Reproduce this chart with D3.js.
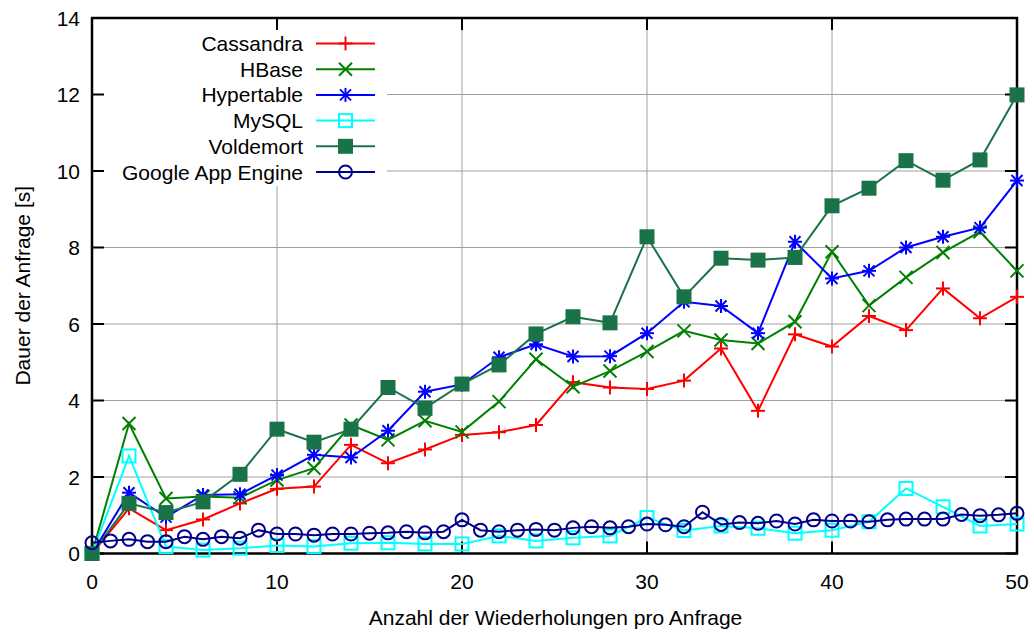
<!DOCTYPE html>
<html>
<head>
<meta charset="utf-8">
<script src="https://cdn.jsdelivr.net/npm/d3@7"></script>
<style>
  body { margin: 0; background: #fff; }
  svg { font-family: "Liberation Sans", Arial, sans-serif; }
</style>
</head>
<body>
<svg id="chart" width="1034" height="633"></svg>
<script>
// x positions of the even-step series
const xEven = [0, 2, 4, 6, 8, 10, 12, 14, 16, 18, 20, 22, 24, 26, 28, 30, 32, 34, 36, 38, 40, 42, 44, 46, 48, 50];
// GAE was measured at every step
const xAll = d3.range(0, 51);

const cassandra = [0, 1.18, 0.61, 0.89, 1.31, 1.69, 1.75, 2.84, 2.36, 2.72, 3.10, 3.17, 3.36, 4.48, 4.34, 4.30, 4.52, 5.36, 3.73, 5.73, 5.41, 6.21, 5.84, 6.93, 6.15, 6.71];
const hbase = [0, 3.40, 1.44, 1.49, 1.46, 1.92, 2.23, 3.36, 2.97, 3.47, 3.18, 3.97, 5.08, 4.36, 4.77, 5.28, 5.82, 5.58, 5.49, 6.06, 7.89, 6.48, 7.22, 7.87, 8.41, 7.39];
const hypertable = [0, 1.59, 0.95, 1.53, 1.55, 2.05, 2.58, 2.51, 3.21, 4.23, 4.42, 5.13, 5.47, 5.15, 5.16, 5.76, 6.58, 6.47, 5.76, 8.15, 7.19, 7.39, 8.00, 8.28, 8.52, 9.75];
const mysql = [0, 2.55, 0.18, 0.09, 0.14, 0.21, 0.18, 0.27, 0.28, 0.25, 0.25, 0.46, 0.33, 0.41, 0.46, 0.94, 0.60, 0.72, 0.66, 0.53, 0.61, 0.83, 1.70, 1.22, 0.72, 0.77];
const voldemort = [0, 1.31, 1.07, 1.35, 2.07, 3.25, 2.91, 3.25, 4.34, 3.80, 4.43, 4.93, 5.74, 6.19, 6.03, 8.28, 6.71, 7.72, 7.67, 7.74, 9.09, 9.55, 10.27, 9.76, 10.29, 11.99];
const gae = [0.28, 0.33, 0.37, 0.31, 0.31, 0.44, 0.37, 0.44, 0.40, 0.61, 0.51, 0.51, 0.48, 0.51, 0.51, 0.53, 0.54, 0.57, 0.54, 0.57, 0.88, 0.61, 0.57, 0.61, 0.63, 0.61, 0.67, 0.70, 0.67, 0.70, 0.77, 0.75, 0.70, 1.08, 0.76, 0.81, 0.79, 0.85, 0.77, 0.88, 0.85, 0.85, 0.83, 0.88, 0.90, 0.90, 0.90, 1.02, 0.99, 1.01, 1.05];

const xTicks = [0, 10, 20, 30, 40, 50];
const yTicks = [0, 2, 4, 6, 8, 10, 12, 14];

const series = [
  { name: "Cassandra", xs: xEven, ys: cassandra, color: "#ff0000", mark: "plus" },
  { name: "HBase", xs: xEven, ys: hbase, color: "#008000", mark: "cross" },
  { name: "Hypertable", xs: xEven, ys: hypertable, color: "#0000ff", mark: "star" },
  { name: "MySQL", xs: xEven, ys: mysql, color: "#00ffff", mark: "box" },
  { name: "Voldemort", xs: xEven, ys: voldemort, color: "#1a7348", mark: "fbox" },
  { name: "Google App Engine", xs: xAll, ys: gae, color: "#00008b", mark: "circle" }
];

const pl = 92, pr = 1017, pt = 18, pb = 553.5;
const fs = 21;
const x = d3.scaleLinear().domain([0, 50]).range([pl, pr]);
const y = d3.scaleLinear().domain([0, 14]).range([pb, pt]);

const svg = d3.select("#chart");

// grid
const grid = svg.append("g").attr("stroke", "#a0a0a0").attr("stroke-width", 1);
grid.selectAll("line.gx").data(xTicks.slice(1, -1)).enter().append("line")
  .attr("x1", d => x(d)).attr("x2", d => x(d)).attr("y1", pt).attr("y2", pb);
grid.selectAll("line.gy").data(yTicks.slice(1, -1)).enter().append("line")
  .attr("y1", d => y(d)).attr("y2", d => y(d)).attr("x1", pl).attr("x2", pr);

// legend backdrop hides the grid
svg.append("rect").attr("x", pl + 2).attr("y", 24).attr("width", 293).attr("height", 162).attr("fill", "#fff");

// ticks, inward, on all sides
const tk = svg.append("g").attr("stroke", "#000").attr("stroke-width", 2);
xTicks.forEach(d => {
  tk.append("line").attr("x1", x(d)).attr("x2", x(d)).attr("y1", pb).attr("y2", pb - 12);
  tk.append("line").attr("x1", x(d)).attr("x2", x(d)).attr("y1", pt).attr("y2", pt + 12);
});
yTicks.forEach(d => {
  tk.append("line").attr("y1", y(d)).attr("y2", y(d)).attr("x1", pl).attr("x2", pl + 12);
  tk.append("line").attr("y1", y(d)).attr("y2", y(d)).attr("x1", pr).attr("x2", pr - 12);
});

// border
svg.append("rect").attr("x", pl).attr("y", pt).attr("width", pr - pl).attr("height", pb - pt)
  .attr("fill", "none").attr("stroke", "#000").attr("stroke-width", 2.5);

// tick labels
svg.append("g").selectAll("text").data(xTicks).enter().append("text")
  .attr("x", d => x(d)).attr("y", pb + 35).attr("text-anchor", "middle")
  .attr("font-size", fs).text(d => d);
svg.append("g").selectAll("text").data(yTicks).enter().append("text")
  .attr("x", pl - 12).attr("y", d => y(d) + 7.5).attr("text-anchor", "end")
  .attr("font-size", fs).text(d => d);

// axis titles
svg.append("text").attr("x", (pl + pr) / 2 + 1).attr("y", 625).attr("text-anchor", "middle")
  .attr("font-size", fs).text("Anzahl der Wiederholungen pro Anfrage");
svg.append("text").attr("transform", "translate(30," + ((pt + pb) / 2) + ") rotate(-90)")
  .attr("text-anchor", "middle").attr("font-size", fs).text("Dauer der Anfrage [s]");

function drawMark(g, kind, cx, cy, color) {
  if (kind === "plus" || kind === "star") {
    g.append("line").attr("x1", cx - 7).attr("x2", cx + 7).attr("y1", cy).attr("y2", cy).attr("stroke", color).attr("stroke-width", 2);
    g.append("line").attr("x1", cx).attr("x2", cx).attr("y1", cy - 7).attr("y2", cy + 7).attr("stroke", color).attr("stroke-width", 2);
  }
  if (kind === "cross" || kind === "star") {
    const h = kind === "star" ? 5.5 : 6.5;
    g.append("line").attr("x1", cx - h).attr("x2", cx + h).attr("y1", cy - h).attr("y2", cy + h).attr("stroke", color).attr("stroke-width", 2);
    g.append("line").attr("x1", cx - h).attr("x2", cx + h).attr("y1", cy + h).attr("y2", cy - h).attr("stroke", color).attr("stroke-width", 2);
  }
  if (kind === "box") {
    g.append("rect").attr("x", cx - 6.5).attr("y", cy - 6.5).attr("width", 13).attr("height", 13)
      .attr("fill", "none").attr("stroke", color).attr("stroke-width", 2);
  }
  if (kind === "fbox") {
    g.append("rect").attr("x", cx - 7.5).attr("y", cy - 7.5).attr("width", 15).attr("height", 15).attr("fill", color);
  }
  if (kind === "circle") {
    g.append("circle").attr("cx", cx).attr("cy", cy).attr("r", 6.5)
      .attr("fill", "none").attr("stroke", color).attr("stroke-width", 2);
  }
}

const line = d3.line().x(d => x(d[0])).y(d => y(d[1]));

series.forEach(s => {
  const pts = s.xs.map((v, i) => [v, s.ys[i]]);
  const g = svg.append("g");
  g.append("path").datum(pts).attr("d", line).attr("fill", "none")
    .attr("stroke", s.color).attr("stroke-width", 2);
  pts.forEach(p => drawMark(g, s.mark, x(p[0]), y(p[1]), s.color));
});

// legend
series.forEach((s, i) => {
  const ly = 43.5 + i * 25.7;
  const g = svg.append("g");
  g.append("text").attr("x", 303).attr("y", ly + 7.5).attr("text-anchor", "end")
    .attr("font-size", fs).text(s.name);
  g.append("line").attr("x1", 316).attr("x2", 375).attr("y1", ly).attr("y2", ly)
    .attr("stroke", s.color).attr("stroke-width", 2);
  drawMark(g, s.mark, 345.5, ly, s.color);
});
</script>
</body>
</html>
